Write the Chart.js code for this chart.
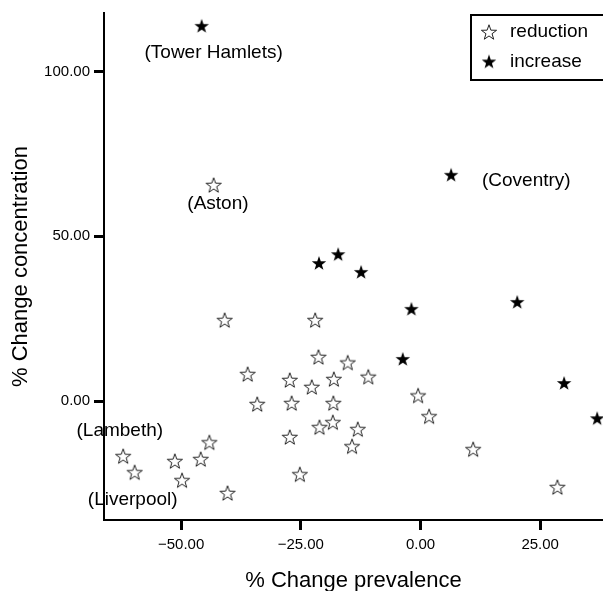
<!DOCTYPE html>
<html>
<head>
<meta charset="utf-8">
<script src="https://cdn.jsdelivr.net/npm/chart.js@4.4.1/dist/chart.umd.min.js"></script>
<style>
  html, body { margin: 0; padding: 0; background: #fff; }
  canvas { display: block; }
</style>
</head>
<body>
<canvas id="myChart" width="603" height="591"></canvas>
<script>
// values
const reductionX = [-43.2, -40.9, -22.0, -21.3, -36.1, -27.3, -15.2, -22.7, -18.1, -10.9,
                    -34.1, -26.9, -18.2, -0.5, 1.8, -27.3, -21.1, -18.3, -13.1, -14.3,
                    11.0, 28.6, -44.1, -45.9, -51.3, -49.8, -62.1, -59.7, -40.3, -25.2];
const reductionY = [65.6, 24.6, 24.6, 13.4, 8.2, 6.4, 11.7, 4.3, 6.7, 7.4,
                    -0.9, -0.6, -0.6, 1.7, -4.6, -10.9, -7.9, -6.4, -8.5, -13.7,
                    -14.6, -26.1, -12.5, -17.6, -18.2, -24.0, -16.7, -21.6, -27.9, -22.2];
const increaseX = [-45.7, 6.4, -21.2, -17.2, -12.4, -1.9, 20.2, -3.7, 30.0, 36.9];
const increaseY = [113.9, 68.7, 41.9, 44.6, 39.2, 28.0, 30.1, 12.8, 5.5, -5.2];

const seriesNames = ['reduction', 'increase'];

const xTicks = [-50, -25, 0, 25];
const yTicks = [0, 50, 100];

// place names written next to some points (data units)
const placeNames = ['(Tower Hamlets)', '(Aston)', '(Coventry)', '(Lambeth)', '(Liverpool)'];
const placeX = [-43.2, -42.3, 12.85, -62.8, -60.1];
const placeY = [105.8, 60.0, 66.8, -9.0, -30.1];
const placeAlign = ['center', 'center', 'left', 'center', 'center'];

const FONT = '"Liberation Sans", Arial, Helvetica, sans-serif';
Chart.defaults.font.family = FONT;
Chart.defaults.color = '#000';

// five-pointed star drawn on a small canvas, used as pointStyle
function makeStar(radius, fill, stroke) {
    const c = document.createElement('canvas');
    c.width = 20;
    c.height = 20;
    const g = c.getContext('2d');
    const cx = 10, cy = 10 + radius * 0.095;
    g.beginPath();
    for (let i = 0; i < 10; i++) {
        const r = i % 2 === 0 ? radius : radius * 0.4;
        const a = -Math.PI / 2 + i * Math.PI / 5;
        const px = cx + r * Math.cos(a), py = cy + r * Math.sin(a);
        if (i === 0) g.moveTo(px, py); else g.lineTo(px, py);
    }
    g.closePath();
    g.fillStyle = fill;
    g.fill();
    if (stroke) {
        g.strokeStyle = stroke;
        g.lineWidth = 1;
        g.stroke();
    }
    return c;
}

const openStar = makeStar(8, '#fff', '#222');
const fullStar = makeStar(7.6, '#000', null);

function fmt(v) {
    return (v < 0 ? '\u2212' : '') + Math.abs(v).toFixed(2);
}

// names in brackets
const placeLabels = {
    id: 'placeLabels',
    afterDatasetsDraw(chart) {
        const ctx = chart.ctx, xs = chart.scales.x, ys = chart.scales.y;
        ctx.save();
        ctx.font = '19px ' + FONT;
        ctx.fillStyle = '#000';
        ctx.textBaseline = 'middle';
        placeNames.forEach((name, i) => {
            ctx.textAlign = placeAlign[i];
            ctx.fillText(name, xs.getPixelForValue(placeX[i]), ys.getPixelForValue(placeY[i]));
        });
        ctx.restore();
    }
};

// boxed legend in the top right corner
const starLegend = {
    id: 'starLegend',
    afterDraw(chart) {
        const ctx = chart.ctx;
        ctx.save();
        ctx.lineWidth = 2;
        ctx.strokeStyle = '#000';
        ctx.strokeRect(471, 15, 200, 65);
        ctx.font = '19px ' + FONT;
        ctx.fillStyle = '#000';
        ctx.textBaseline = 'middle';
        ctx.textAlign = 'left';
        chart.data.datasets.forEach((ds, i) => {
            const y = 32 + i * 29.5;
            ctx.drawImage(ds.pointStyle, 489 - 10, y - 10);
            ctx.fillText(ds.label, 510, y);
        });
        ctx.restore();
    }
};

const ctx = document.getElementById('myChart').getContext('2d');
const chart = new Chart(ctx, {
    type: 'scatter',
    data: {
        datasets: [
            {
                label: seriesNames[0],
                data: reductionX.map((x, i) => ({ x: x, y: reductionY[i] })),
                pointStyle: openStar,
                // tiny radius (and hover radius) so the layout keeps no extra margin
                pointRadius: 0.1,
                pointHoverRadius: 0,
                pointBorderWidth: 0,
                pointHoverBorderWidth: 0,
                clip: false
            },
            {
                label: seriesNames[1],
                data: increaseX.map((x, i) => ({ x: x, y: increaseY[i] })),
                pointStyle: fullStar,
                pointRadius: 0.1,
                pointHoverRadius: 0,
                pointBorderWidth: 0,
                pointHoverBorderWidth: 0,
                clip: false
            }
        ]
    },
    options: {
        responsive: false,
        animation: false,
        events: [],
        layout: { padding: { top: 13, right: 0, left: 0, bottom: 0 } },
        plugins: {
            legend: { display: false },
            tooltip: { enabled: false }
        },
        scales: {
            x: {
                type: 'linear',
                min: -66.1,
                max: 38.1,
                afterBuildTicks: s => { s.ticks = xTicks.map(v => ({ value: v })); },
                afterFit: s => { s.height = 71; s.paddingLeft = 0; s.paddingRight = 0; },
                grid: { drawOnChartArea: false, tickLength: 10, tickWidth: 3, tickColor: '#000' },
                border: { display: true, color: '#000', width: 2 },
                ticks: { color: '#000', padding: 6, maxRotation: 0, font: { size: 15 }, callback: v => fmt(v) },
                title: {
                    display: true, text: '% Change prevalence', color: '#000',
                    font: { size: 22, lineHeight: 0.8 }, padding: { top: 0, bottom: 1 }
                }
            },
            y: {
                type: 'linear',
                min: -36.1,
                max: 117.8,
                afterBuildTicks: s => { s.ticks = yTicks.map(v => ({ value: v })); },
                afterFit: s => { s.width = 104; s.paddingTop = 0; s.paddingBottom = 0; },
                grid: { drawOnChartArea: false, tickLength: 10, tickWidth: 3, tickColor: '#000' },
                border: { display: true, color: '#000', width: 2 },
                ticks: { color: '#000', padding: 4, font: { size: 15 }, callback: v => fmt(v) },
                title: {
                    display: true, text: '% Change concentration', color: '#000',
                    font: { size: 22, lineHeight: 1 }, padding: { top: 10, bottom: 0 }
                }
            }
        }
    },
    plugins: [placeLabels, starLegend]
});
</script>
</body>
</html>
